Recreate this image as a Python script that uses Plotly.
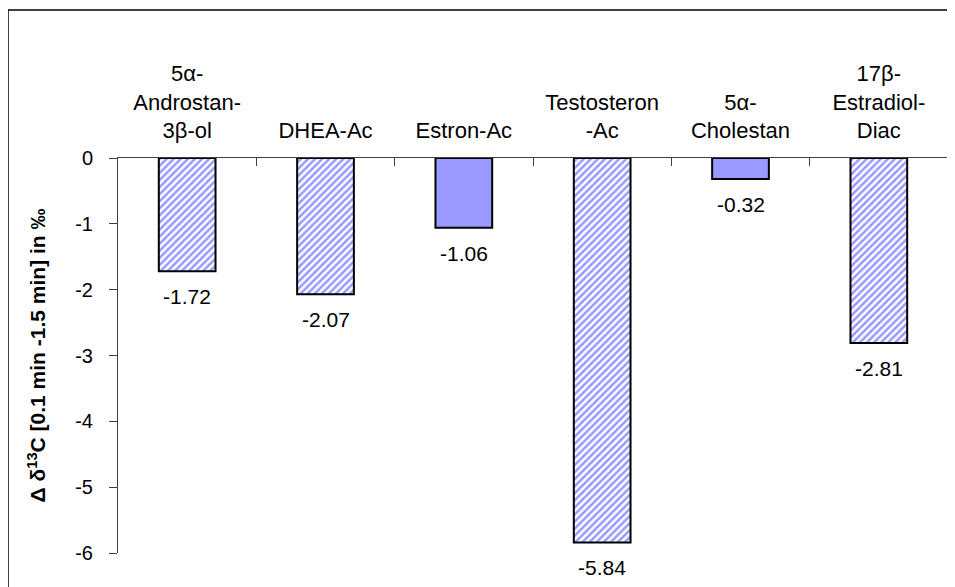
import plotly.graph_objects as go

categories = ["5α-<br>Androstan-<br>3β-ol", "DHEA-Ac", "Estron-Ac", "Testosteron<br>-Ac", "5α-<br>Cholestan", "17β-<br>Estradiol-<br>Diac"]
values = [-1.72, -2.07, -1.06, -5.84, -0.32, -2.81]
value_labels = ["-1.72", "-2.07", "-1.06", "-5.84", "-0.32", "-2.81"]
hatched = [True, True, False, True, False, True]
y_ticks = [0, -1, -2, -3, -4, -5, -6]

# page renders with an 8px body offset
OFF = 8
W, H = 955 - OFF, 587 - OFF
L, T = 118 - OFF, 158 - OFF
R = W - (948 - OFF)
B = H - (553 - OFF)
pw, ph = W - L - R, H - T - B

BLUE = "#9999FF"
FONT = "Liberation Sans, Arial, sans-serif"

hx = [c for c, h in zip(categories, hatched) if h]
hy = [v for v, h in zip(values, hatched) if h]
sx = [c for c, h in zip(categories, hatched) if not h]
sy = [v for v, h in zip(values, hatched) if not h]

fig = go.Figure()
fig.add_trace(go.Bar(
    x=hx, y=hy, width=0.41,
    marker=dict(
        color="white",
        line=dict(color="black", width=2),
        pattern=dict(shape="/", fgcolor=BLUE, bgcolor="white", fillmode="replace",
                     size=5, solidity=0.5),
    ),
    hoverinfo="skip",
))
fig.add_trace(go.Bar(
    x=sx, y=sy, width=0.41,
    marker=dict(color=BLUE, line=dict(color="black", width=2)),
    hoverinfo="skip",
))

for c, v, t in zip(categories, values, value_labels):
    fig.add_annotation(x=c, y=v, text=t, showarrow=False, yanchor="top", yshift=-12,
                       font=dict(family=FONT, size=21, color="black"))

def px2paper_x(px):
    return (px - OFF - L) / pw

def px2paper_y(py):
    return (H - B - (py - OFF)) / ph

# outer chart-area border (left and top edges visible)
fig.add_shape(type="line", xref="paper", yref="paper",
              x0=px2paper_x(8), y0=px2paper_y(10), x1=px2paper_x(980), y1=px2paper_y(10),
              line=dict(color="black", width=1.5))
fig.add_shape(type="line", xref="paper", yref="paper",
              x0=px2paper_x(8), y0=px2paper_y(10), x1=px2paper_x(8), y1=px2paper_y(620),
              line=dict(color="black", width=1.5))

fig.update_layout(
    width=W, height=H,
    margin=dict(l=L, r=R, t=T, b=B),
    paper_bgcolor="white", plot_bgcolor="white",
    showlegend=False,
    barmode="overlay",
    font=dict(family=FONT, color="black"),
    xaxis=dict(
        side="top", type="category",
        categoryorder="array", categoryarray=categories,
        showline=True, linecolor="#404040", linewidth=1,
        ticks="inside", ticklen=8, tickcolor="#404040", tickson="boundaries",
        tickfont=dict(size=22, family=FONT),
        ticklabelstandoff=10,
        showgrid=False, zeroline=False,
        range=[-0.5, 5.5],
    ),
    yaxis=dict(
        range=[-6, 0],
        tickvals=y_ticks, ticktext=[str(v) for v in y_ticks],
        showline=True, linecolor="#404040", linewidth=1,
        ticks="outside", ticklen=8, tickcolor="#404040",
        tickfont=dict(size=20, family=FONT),
        ticklabelstandoff=12,
        showgrid=False, zeroline=False,
        title=dict(text="Δ δ<sup>13</sup>C [0.1 min -1.5 min] in ‰",
                   font=dict(size=21, family=FONT, weight="bold"), standoff=23),
    ),
)

fig.write_html("out.html")
